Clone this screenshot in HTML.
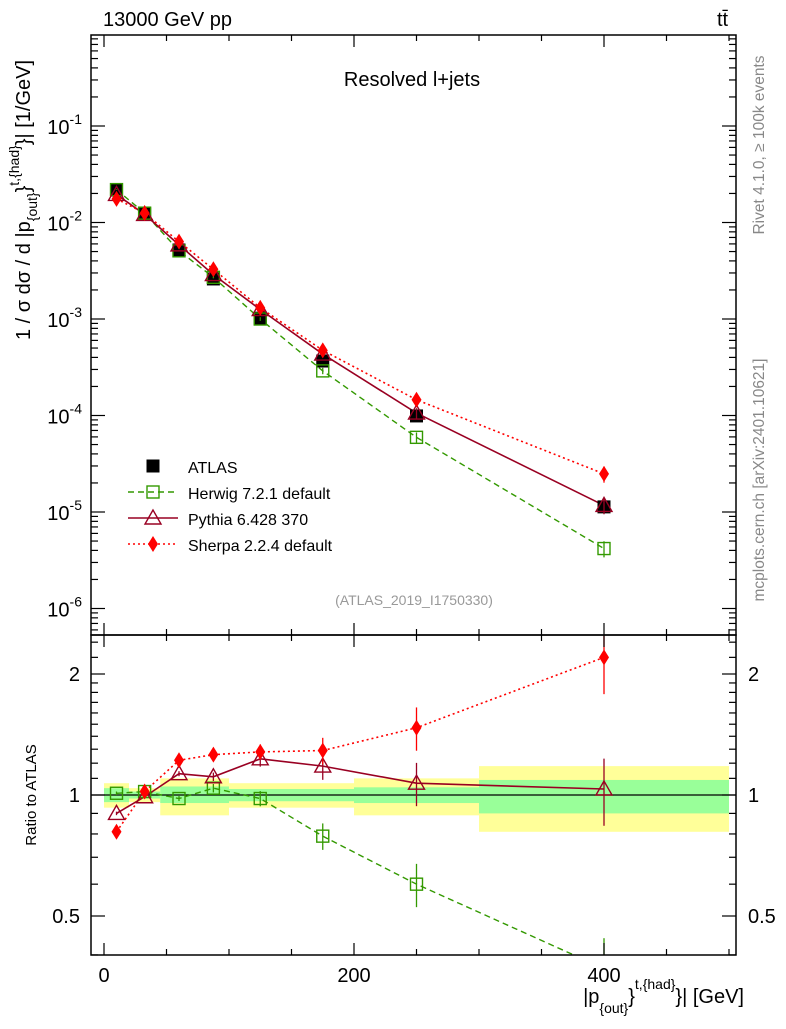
<!DOCTYPE html>
<html><head><meta charset="utf-8"><style>
body{margin:0;background:#fff;width:786px;height:1024px;overflow:hidden}
svg{font-family:"Liberation Sans",sans-serif}
</style></head><body>
<svg id="c" width="786" height="1024"></svg>
<script>
const xCenters=[10,32.5,60,87.5,125,175,250,400];
const xLo=[0,20,45,75,100,150,200,300];
const xHi=[20,45,75,100,150,200,300,500];
const dataVals=[0.0217,0.01225,0.00519,0.0026,0.00102,0.000367,0.000099,0.0000113];
const herwigRatio=[1.01,1.02,0.98,1.04,0.98,0.79,0.60,0.37];
const pythiaRatio=[0.90,0.99,1.13,1.11,1.23,1.18,1.07,1.035];
const sherpaRatio=[0.81,1.02,1.22,1.26,1.28,1.29,1.47,2.20];
const bandLo=[0,20,45,100,150,200,300];
const bandHi=[20,45,100,150,200,300,500];
const yellowUp=[1.07,1.04,1.10,1.07,1.07,1.10,1.18];
const yellowDn=[0.93,0.96,0.89,0.93,0.93,0.89,0.81];
const greenUp=[1.04,1.02,1.05,1.035,1.035,1.045,1.09];
const greenDn=[0.96,0.98,0.955,0.965,0.965,0.955,0.90];
const xTicks=[0,200,400];
const yTicks=[-6,-5,-4,-3,-2,-1];
const rTicks=[0.5,1,2];

const NS="http://www.w3.org/2000/svg";
const svg=document.getElementById('c');
const L=91,R=736,T=35,M=635,B=955;
const X=v=>104+(v)*1.25;
const Y=v=>126-(Math.log10(v)+1)*96.5;
const RY=v=>795-Math.log2(v)*121;
function el(tag,attrs,parent){const e=document.createElementNS(NS,tag);for(const k in attrs)e.setAttribute(k,attrs[k]);(parent||svg).appendChild(e);return e;}
function txt(s,x,y,size,attrs){const t=el('text',Object.assign({x:x,y:y,'font-size':size},attrs||{}));t.textContent=s;return t;}

const defs=el('defs',{});
const c1=el('clipPath',{id:'cm'},defs);el('rect',{x:L,y:T,width:R-L,height:M-T},c1);
const c2=el('clipPath',{id:'cr'},defs);el('rect',{x:L,y:M,width:R-L,height:B-M},c2);
const gm=el('g',{'clip-path':'url(#cm)'});
const gr=el('g',{'clip-path':'url(#cr)'});

for(let i=0;i<bandLo.length;i++){
 const y=el('rect',{x:X(bandLo[i]),y:RY(yellowUp[i]),width:X(bandHi[i])-X(bandLo[i]),height:RY(yellowDn[i])-RY(yellowUp[i]),fill:'#ffff99'},gr);
 
 const g=el('rect',{x:X(bandLo[i]),y:RY(greenUp[i]),width:X(bandHi[i])-X(bandLo[i]),height:RY(greenDn[i])-RY(greenUp[i]),fill:'#99ff99'},gr);
 
}
el('line',{x1:L,x2:R,y1:RY(1),y2:RY(1),stroke:'#000','stroke-width':1.3},gr);

function marker(type,x,y,color,parent){
 let m;
 if(type==='sq') m=el('rect',{x:x-6.5,y:y-6.5,width:13,height:13,fill:'#000'},parent);
 else if(type==='osq') m=el('rect',{x:x-6,y:y-6,width:12,height:12,fill:'none',stroke:color,'stroke-width':1.4},parent);
 else if(type==='tri') m=el('polygon',{points:`${x},${y-8} ${x-8},${y+6} ${x+8},${y+6}`,fill:'none',stroke:color,'stroke-width':1.4},parent);
 else m=el('polygon',{points:`${x},${y-8} ${x-5},${y} ${x},${y+8} ${x+5},${y}`,fill:color},parent);
 return m;
}
const series=[
 {name:'herwig',r:herwigRatio,color:'#339900',dash:'6,4',m:'osq',w:1.4},
 {name:'pythia',r:pythiaRatio,color:'#990022',dash:'',m:'tri',w:1.6},
 {name:'sherpa',r:sherpaRatio,color:'#ff0000',dash:'2,3',m:'dia',w:1.6}
];
series.forEach(s=>{
 const pm=xCenters.map((x,i)=>X(x)+','+Y(dataVals[i]*s.r[i])).join(' ');
 const l1=el('polyline',{points:pm,fill:'none',stroke:s.color,'stroke-width':s.w,'stroke-dasharray':s.dash},gm);
 
 const pr=xCenters.map((x,i)=>X(x)+','+RY(s.r[i])).join(' ');
 const l2=el('polyline',{points:pr,fill:'none',stroke:s.color,'stroke-width':s.w,'stroke-dasharray':s.dash},gr);
 
});
xCenters.forEach((x,i)=>{
 const m=marker('sq',X(x),Y(dataVals[i]),'#000',gm);
 
});
series.forEach(s=>{
 xCenters.forEach((x,i)=>{
  const e=0.01+0.18*Math.pow(i/7,3);
  el('line',{x1:X(x),x2:X(x),y1:Y(dataVals[i]*s.r[i]*(1+e)),y2:Y(dataVals[i]*s.r[i]*(1-e)),stroke:s.color,'stroke-width':1.3},gm);
  el('line',{x1:X(x),x2:X(x),y1:RY(s.r[i]*(1+e)),y2:RY(s.r[i]*(1-e)),stroke:s.color,'stroke-width':1.3},gr);
  const m1=marker(s.m,X(x),Y(dataVals[i]*s.r[i]),s.color,gm);
  
  const m2=marker(s.m,X(x),RY(s.r[i]),s.color,gr);
  
 });
});

el('rect',{x:L,y:T,width:R-L,height:M-T,fill:'none',stroke:'#000','stroke-width':1.5});
el('rect',{x:L,y:M,width:R-L,height:B-M,fill:'none',stroke:'#000','stroke-width':1.5});
for(let v=0;v<=500;v+=50){const maj=v%200===0;const len=maj?12:6;
 [[T,1],[M,-1],[M,1],[B,-1]].forEach(([y0,d])=>el('line',{x1:X(v),x2:X(v),y1:y0,y2:y0+d*len,stroke:'#000','stroke-width':1.2}));}
xTicks.forEach(v=>{const t=txt(String(v),X(v),982,20,{'text-anchor':'middle'});});
for(let d=-7;d<=-1;d++){for(let k=1;k<10;k++){const v=k*Math.pow(10,d);const y=Y(v);if(y<T||y>M)continue;const len=k===1?14:7;
 el('line',{x1:L,x2:L+len,y1:y,y2:y,stroke:'#000','stroke-width':1.2});el('line',{x1:R,x2:R-len,y1:y,y2:y,stroke:'#000','stroke-width':1.2});}}
yTicks.forEach(d=>{const t=el('text',{x:82,y:Y(Math.pow(10,d))+8,'font-size':20,'text-anchor':'end'});
 t.textContent='10';const ts=el('tspan',{dy:-10,'font-size':14},t);ts.textContent=String(d);});
const rm=[0.4,0.5,0.6,0.7,0.8,0.9,1,1.1,1.2,1.3,1.4,1.5,1.6,1.7,1.8,1.9,2,2.2,2.4];
rm.forEach(v=>{const y=RY(v);if(y<M||y>B)return;const maj=(v===0.5||v===1||v===2);const len=maj?14:7;
 el('line',{x1:L,x2:L+len,y1:y,y2:y,stroke:'#000','stroke-width':1.2});el('line',{x1:R,x2:R-len,y1:y,y2:y,stroke:'#000','stroke-width':1.2});});
rTicks.forEach(v=>{const a=txt(String(v),80,RY(v)+7,20,{'text-anchor':'end'});
 const b=txt(String(v),748,RY(v)+7,20,{});});

let t;
t=txt('13000 GeV pp',103,26,20);
t=txt('tt̄',717,26,20);
t=txt('Resolved l+jets',412,86,20,{'text-anchor':'middle'});
t=txt('(ATLAS_2019_I1750330)',414,605,14,{'text-anchor':'middle',fill:'#999'});
t=txt('Rivet 4.1.0, ≥ 100k events',0,0,15.5,{fill:'#888','text-anchor':'middle',transform:'translate(764,145) rotate(-90)'});
t=txt('mcplots.cern.ch [arXiv:2401.10621]',0,0,15.5,{fill:'#888','text-anchor':'middle',transform:'translate(764,480) rotate(-90)'});
t=el('text',{'font-size':20,'text-anchor':'middle',transform:'translate(30,200) rotate(-90)'});
t.innerHTML='1 / σ dσ / d |p<tspan dy="7" font-size="14">{out}</tspan><tspan dy="-7">}</tspan><tspan dy="-11" font-size="14">t,{had}</tspan><tspan dy="11">}| [1/GeV]</tspan>';
t=txt('Ratio to ATLAS',0,0,15,{'text-anchor':'middle',transform:'translate(36,795) rotate(-90)'});
t=el('text',{'font-size':20,'text-anchor':'end',x:744,y:1003});
t.innerHTML='|p<tspan dy="10" font-size="14">{out}</tspan><tspan dy="-10">}</tspan><tspan dy="-14" font-size="14">t,{had}</tspan><tspan dy="14">}| [GeV]</tspan>';

const lg=el('g',{});
const ent=[['ATLAS','sq','#000',''],['Herwig 7.2.1 default','osq','#339900','6,4'],['Pythia 6.428 370','tri','#990022',''],['Sherpa 2.2.4 default','dia','#ff0000','2,3']];
ent.forEach((e,i)=>{const y=466+i*26;const g=el('g',{},lg);
 if(i>0)el('line',{x1:128,x2:178,y1:y,y2:y,stroke:e[2],'stroke-width':1.5,'stroke-dasharray':e[3]},g);
 marker(e[1],153,y,e[2],g);
 const lt=txt(e[0],188,y+7,16,{},g);
 g.appendChild(lt);
 
 
});
</script>
</body></html>
